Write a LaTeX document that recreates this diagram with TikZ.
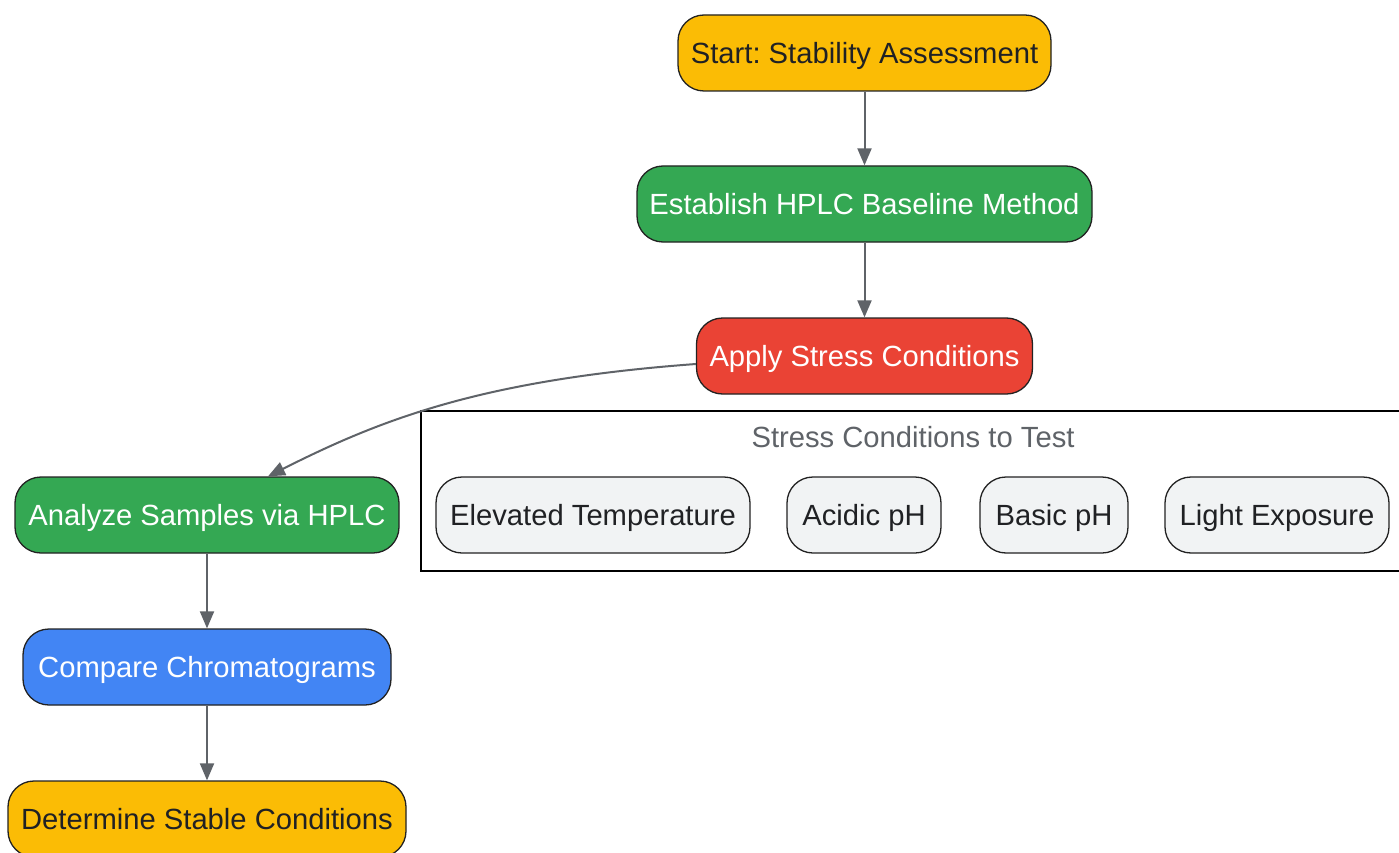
\documentclass[tikz,border=0pt]{standalone}
\usepackage{fontspec}
\setmainfont{Liberation Sans}
\frenchspacing
\usetikzlibrary{arrows.meta}
\definecolor{cyellow}{HTML}{FBBC05}
\definecolor{cgreen}{HTML}{34A853}
\definecolor{cred}{HTML}{EA4335}
\definecolor{cblue}{HTML}{4285F4}
\definecolor{cgrayfill}{HTML}{F1F3F4}
\definecolor{ctext}{HTML}{202124}
\definecolor{cedge}{HTML}{5F6368}
\definecolor{cborder}{HTML}{222222}
\tikzset{
  box/.style={draw=cborder, line width=1.3pt, rounded corners=26pt, minimum height=76pt, inner sep=0pt, text height=22pt, text depth=1pt, font=\fontsize{29.2}{32}\selectfont},
  darktext/.style={text=ctext},
  lighttext/.style={text=white},
  flow/.style={draw=cedge, line width=2pt, -{Triangle[length=17pt,width=14pt]}},
}
\begin{document}
\begin{tikzpicture}[x=1pt,y=-1pt]
\useasboundingbox (0,0) rectangle (1399,853);
\clip (0,0) rectangle (1399,853);
\fill[white] (0,0) rectangle (1399,853);
% cluster
\node[draw=black, line width=2pt, minimum width=990pt, minimum height=160pt, inner sep=0pt, anchor=north west] (cluster) at (420,410) {};
\node[text=cedge, font=\fontsize{29.2}{32}\selectfont, text height=22pt, text depth=1pt, inner sep=0pt] (ctitle) at (913,437) {Stress Conditions to Test};
% main nodes
\node[box, fill=cyellow, darktext, minimum width=373pt] (start) at (864.5,53) {Start: Stability Assessment};
\node[box, fill=cgreen, lighttext, minimum width=455pt] (est) at (864.5,204) {Establish HPLC Baseline Method};
\node[box, fill=cred, lighttext, minimum width=336pt] (apply) at (864.5,356) {Apply Stress Conditions};
\node[box, fill=cgreen, lighttext, minimum width=384pt] (analyze) at (207,515) {Analyze Samples via HPLC};
\node[box, fill=cblue, lighttext, minimum width=368pt] (compare) at (207,667) {Compare Chromatograms};
\node[box, fill=cyellow, darktext, minimum width=398pt] (det) at (207,819) {Determine Stable Conditions};
% stress nodes
\node[box, fill=cgrayfill, darktext, minimum width=314pt] (temp) at (593,515) {Elevated Temperature};
\node[box, fill=cgrayfill, darktext, minimum width=154pt] (acid) at (864,515) {Acidic pH};
\node[box, fill=cgrayfill, darktext, minimum width=148pt] (basic) at (1054,515) {Basic pH};
\node[box, fill=cgrayfill, darktext, minimum width=224pt] (light) at (1277,515) {Light Exposure};
% edges
\draw[flow] (start) -- (est);
\draw[flow] (est) -- (apply);
\draw[flow] ([yshift=-8pt]apply.west) .. controls (480,380) and (380,420) .. (analyze.north -| 268,0);
\draw[flow] (analyze) -- (compare);
\draw[flow] (compare) -- (det);
\end{tikzpicture}
\end{document}
